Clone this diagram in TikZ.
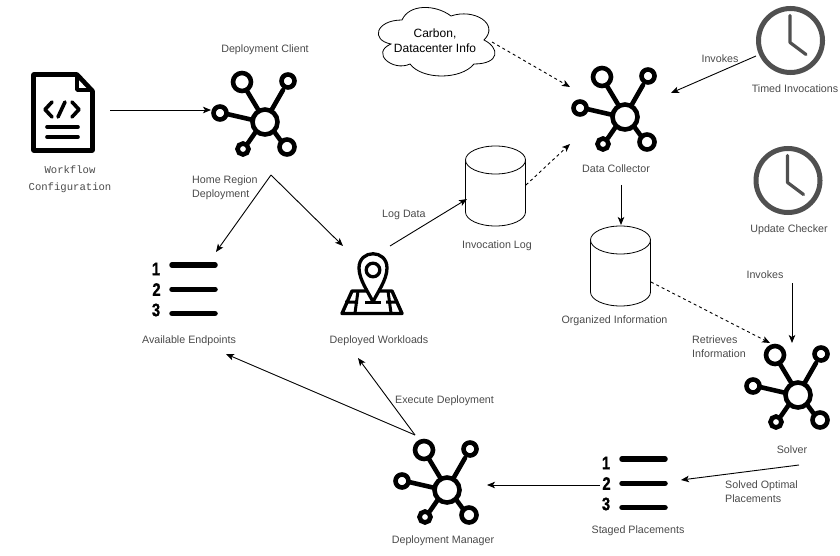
\documentclass[tikz,border=0pt]{standalone}
\usepackage{fontspec}
\setmainfont{Liberation Sans}
\setmonofont{Liberation Mono}
\newfontfamily\digitfont[FakeBold=1.2]{Liberation Sans Bold}
\usetikzlibrary{arrows.meta}
\definecolor{lab}{HTML}{4A4A4A}
\definecolor{clockc}{HTML}{505050}
\tikzset{
  every picture/.style={x=1pt,y=-1pt},
  lbl/.style={text=lab,font=\fontsize{10.7}{12}\selectfont,inner sep=0pt,text height=9pt,text depth=1pt},
  lleft/.style={lbl,anchor=west},
  mono/.style={text=lab,font=\ttfamily\fontsize{10.6}{12}\selectfont,inner sep=0pt,text height=8pt,text depth=2pt},
  conn/.style={line width=0.9pt,-{Stealth[length=8pt,width=6.5pt,inset=2pt]}},
  dconn/.style={conn,dash pattern=on 3pt off 3pt},
  icon/.style={line width=4.6pt,black,line cap=round},
  cyl/.style={line width=0.8pt,draw=black},
  digit/.style={font=\digitfont\fontsize{18}{18}\selectfont,inner sep=0pt,xscale=0.82},
  hub/.pic={
    \draw[icon] (-6,-11)--(-18,-31) (6,-11)--(18,-32) (-12,-2)--(-38,-8) (-8,8)--(-17,21) (8,8)--(16,19);
    \draw[icon,fill=white] (0,0) circle (12.5);
    \draw[icon,fill=white] (-23,-40) circle (9) (23,-41) circle (6.5) (-45,-9) circle (6.5) (-22,27) circle (5.5) (22,25) circle (7.5);
  },
  listicon/.pic={
    \draw[line width=5.5pt,black,line cap=round] (0,0)--(43,0) (0,24.3)--(43,24.3) (0,48.6)--(43,48.6);
    \node[digit] at (-16,4) {1};
    \node[digit] at (-15.5,24.5) {2};
    \node[digit] at (-16,45) {3};
  },
  clockicon/.pic={
    \draw[line width=5pt,clockc] (0,0) circle (32);
    \draw[line width=3.2pt,clockc,line cap=round,line join=round] (-0.5,-25)--(-0.5,2)--(15.5,14);
  },
}
\begin{document}
\begin{tikzpicture}
\useasboundingbox (0,0) rectangle (840,556);
% workflow icon
\draw[line width=4.6pt,line join=round,black] (33.5,74.5)--(77,74.5)--(92.5,91)--(92.5,150.5)--(33.5,150.5)--cycle;
\draw[line width=3.5pt,line join=round] (77,75)--(77,90)--(92,90);
\draw[line width=3.6pt,line cap=round,line join=round] (52,102)--(45,109.5)--(52,117) (72,102)--(79,109.5)--(72,117) (58,117)--(65,102);
\draw[line width=3.6pt,line cap=round] (47,127)--(78,127) (47,137)--(78,137);
\node[mono] (wf1) at (70,171) {Workflow};
\node[mono] (wf2) at (70,187) {Configuration};
\coordinate (wfout) at (110,110);
% hubs
\pic at (265,122) {hub};
\pic at (625,117) {hub};
\pic at (798,395) {hub};
\pic at (447,490) {hub};
\coordinate (clientin) at (211,110);
\node[lbl] (client) at (265,49) {Deployment Client};
\node[lleft] (home1) at (192,179) {Home Region};
\node[lleft] (home2) at (192,193) {Deployment};
% lists
\pic at (172,265) {listicon};
\node[lbl] (avail) at (189,339) {Available Endpoints};
\node[lbl] (staged) at (638,529) {Staged Placements};
% map pin
\draw[line width=3.4pt,line join=round,fill=white] (352,291)--(392,291)--(402,313.5)--(342,313.5)--cycle;
\draw[line width=3pt] (345,302)--(358,302) (386,302)--(398,302) (358,291)--(355,313) (388,291)--(391,313);
\draw[line width=3.3pt,fill=white,line join=round] (373,302) .. controls (369,293) and (359,280) .. (359,268) .. controls (359,249) and (387,249) .. (387,268) .. controls (387,280) and (377,293) .. (373,302) -- cycle;
\draw[line width=3.4pt] (365,302.5)--(381,302.5);
\draw[line width=3.3pt] (373,270) circle (6.8);
\node[lbl] (depl) at (379,339) {Deployed Workloads};
% cloud
\path[line width=0.8pt,draw=black,fill=white]
 (402,20) .. controls (376,20) and (370,40) .. (391,44)
 .. controls (370,53) and (393,72) .. (410,64)
 .. controls (422,80) and (461,80) .. (474,64)
 .. controls (500,64) and (500,48) .. (484,40)
 .. controls (500,24) and (474,8) .. (451,16)
 .. controls (435,4) and (409,4) .. (402,20) -- cycle;
\node[align=center,font=\fontsize{12}{15}\selectfont,inner sep=0pt] (cloud) at (435,41) {Carbon,\\Datacenter Info};
% cylinders
\draw[cyl,fill=white] (465.5,160) -- (465.5,212) arc[start angle=180,end angle=0,x radius=30,y radius=14] -- (525.5,160);
\draw[cyl,fill=white] (495.5,160) ellipse (30 and 14);
\draw[cyl,fill=white] (590.5,240) -- (590.5,292) arc[start angle=180,end angle=0,x radius=30,y radius=14] -- (650.5,240);
\draw[cyl,fill=white] (620.5,240) ellipse (30 and 14);
\node[lbl] (invlog) at (497,244) {Invocation Log};
\node[lbl] (org) at (614.5,319) {Organized Information};
\node[lbl] (dc) at (616,169) {Data Collector};
\node[lbl] (solver) at (792,449) {Solver};
\node[lbl] (dm) at (443,539) {Deployment Manager};
% clocks
\pic at (790.5,40.5) {clockicon};
\pic at (788,180.5) {clockicon};
\node[lbl] (timed) at (795,89) {Timed Invocations};
\node[lbl] (upd) at (789,229) {Update Checker};
% connector ends
\coordinate (a1) at (271,175); \coordinate (a2) at (216,252); \coordinate (a3) at (343,246);
\coordinate (b1) at (390,246); \coordinate (b2) at (467,199);
\coordinate (c1) at (526,185); \coordinate (c2) at (570,144);
\coordinate (d1) at (492,42);  \coordinate (d2) at (570,87);
\coordinate (e1) at (756,56);  \coordinate (e2) at (671,93);
\coordinate (f1) at (621,185); \coordinate (f2) at (621,225);
\coordinate (g1) at (651,282); \coordinate (g2) at (770,343);
\coordinate (h1) at (792,283); \coordinate (h2) at (792,343);
\coordinate (i1) at (799,465); \coordinate (i2) at (681,480);
\coordinate (j1) at (600,485); \coordinate (j2) at (487,485);
\coordinate (k1) at (415,435); \coordinate (k2) at (226,354); \coordinate (k3) at (358,358);
\draw[conn] (wfout) -- (clientin);
\draw[conn] (a1) -- (a2);
\draw[conn] (a1) -- (a3);
\draw[conn] (b1) -- (b2);
\draw[dconn] (c1) -- (c2);
\draw[dconn] (d1) -- (d2);
\draw[conn] (e1) -- (e2);
\draw[conn] (f1) -- (f2);
\draw[dconn] (g1) -- (g2);
\draw[conn] (h1) -- (h2);
\draw[conn] (i1) -- (i2);
\draw[conn] (j1) -- (j2);
\draw[conn] (k1) -- (k2);
\draw[conn] (k1) -- (k3);
% staged list drawn over its connector
\pic at (622,459) {listicon};
% edge labels
\node[lleft] (l1) at (382,214) {Log Data};
\node[lbl] (l2) at (720,59) {Invokes};
\node[lbl] (l3) at (765,274) {Invokes};
\node[lleft] (l4) at (692,339) {Retrieves};
\node[lleft] (l5) at (692,353) {Information};
\node[lleft] (l6) at (725,484) {Solved Optimal};
\node[lleft] (l7) at (725,498) {Placements};
\node[lleft] (l8) at (395,399) {Execute Deployment};
\end{tikzpicture}
\end{document}
